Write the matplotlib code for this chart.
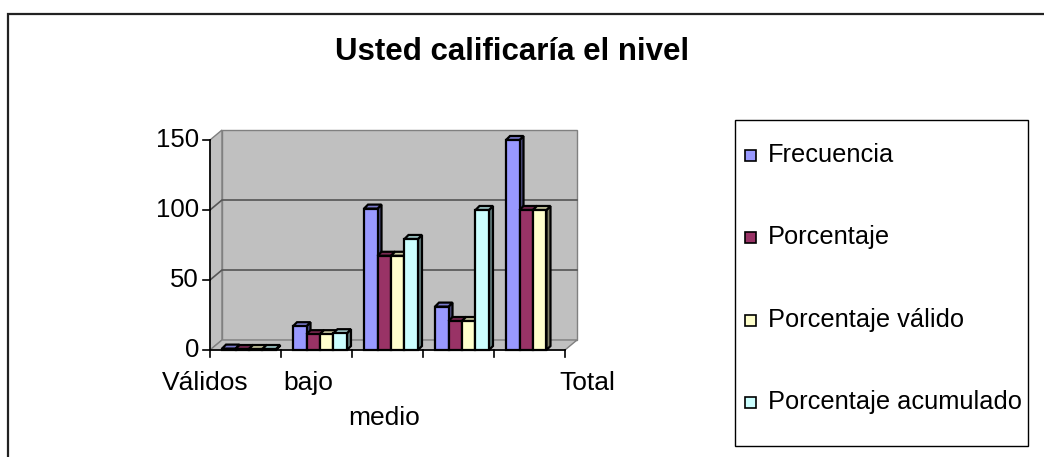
import matplotlib
matplotlib.use("Agg")
import matplotlib.pyplot as plt
from matplotlib.patches import Polygon, Rectangle
import numpy as np

plt.rcParams["font.family"] = ["Liberation Sans", "DejaVu Sans"]

title = "Usted calificaría el nivel"
categories = ["Válidos", "bajo", "medio", "", "Total"]
series_names = ["Frecuencia", "Porcentaje", "Porcentaje válido", "Porcentaje acumulado"]
frecuencia = [1, 17, 101, 31, 150]
porcentaje = [0.7, 11.3, 67.3, 20.7, 100]
porcentaje_valido = [0.7, 11.3, 67.3, 20.7, 100]
porcentaje_acumulado = [0.7, 12.0, 79.3, 100, np.nan]
y_ticks = [0, 50, 100, 150]

series = [frecuencia, porcentaje, porcentaje_valido, porcentaje_acumulado]
# front, top, side shades (Excel 2003 palette)
front_cols = ["#9999FF", "#993366", "#FFFFCC", "#CCFFFF"]
top_cols = ["#7A7ACC", "#7A2952", "#CCCCA3", "#A3CCCC"]
side_cols = ["#4D4D80", "#4D1A33", "#808066", "#668080"]

W, H = 1044, 457
fig = plt.figure(figsize=(W / 100, H / 100), dpi=100)

# front plane of the 3-D plot, in pixels: x 210..565, y 140..350
ax = fig.add_axes([210 / W, 1 - 350 / H, 355 / W, 210 / H])
ax.set_xlim(-0.5, len(categories) - 0.5)
ax.set_ylim(0, 150)
ax.axis("off")

ux = len(categories) / 355.0   # data units per pixel
uy = 150 / 210.0
dxw, dyw = 12 * ux, 10 * uy    # wall depth
dxb, dyb = 4 * ux, 4 * uy      # bar depth
x0, x1 = -0.5, len(categories) - 0.5

wall = "#C0C0C0"
wall_edge = "#808080"
ax.add_patch(Polygon([(x0, 0), (x0, 150), (x0 + dxw, 150 + dyw), (x0 + dxw, dyw)],
                     fc=wall, ec=wall_edge, lw=1, clip_on=False, zorder=1))
ax.add_patch(Rectangle((x0 + dxw, dyw), x1 - x0, 150, fc=wall, ec=wall_edge,
                       lw=1, clip_on=False, zorder=1))
ax.add_patch(Polygon([(x0, 0), (x1, 0), (x1 + dxw, dyw), (x0 + dxw, dyw)],
                     fc=wall, ec=wall_edge, lw=1, clip_on=False, zorder=1))
for v in y_ticks[1:-1]:
    ax.plot([x0, x0 + dxw, x1 + dxw], [v, v + dyw, v + dyw], color="#555555",
            lw=1.2, clip_on=False, zorder=2)

# front axes
ax.plot([x0, x0], [0, 150], color="black", lw=1.2, clip_on=False, zorder=3)
ax.plot([x0, x1], [0, 0], color="black", lw=1.2, clip_on=False, zorder=3)
for v in y_ticks:
    ax.plot([x0 - 7 * ux, x0], [v, v], color="black", lw=1.2, clip_on=False, zorder=3)
    ax.text(x0 - 11 * ux, v, str(v), ha="right", va="center", fontsize=18.5)
for b in np.arange(x0, x1 + 0.01, 1.0):
    ax.plot([b, b], [0, -7 * uy], color="black", lw=1.2, clip_on=False, zorder=3)

# bars
bw = 0.19
shift = 3.5 * ux
z = 4
for i in range(len(categories)):
    for j, vals in enumerate(series):
        v = vals[i]
        if np.isnan(v):
            continue
        left = i - 2 * bw + j * bw + shift
        ax.add_patch(Polygon([(left + bw, 0), (left + bw + dxb, dyb),
                              (left + bw + dxb, v + dyb), (left + bw, v)],
                             fc=side_cols[j], ec="black", lw=1.6, clip_on=False, zorder=z))
        ax.add_patch(Polygon([(left, v), (left + dxb, v + dyb),
                              (left + bw + dxb, v + dyb), (left + bw, v)],
                             fc=top_cols[j], ec="black", lw=1.6, clip_on=False, zorder=z + 1))
        ax.add_patch(Rectangle((left, 0), bw, v, fc=front_cols[j], ec="black",
                               lw=1.6, clip_on=False, zorder=z + 2))
        z += 3

# category labels (Excel staggers them)
label_dx = [-0.57, -0.12, -0.05, 0.0, 0.82]
label_dy = [33, 33, 68, 33, 33]
for i, lab in enumerate(categories):
    ax.text(i + label_dx[i], -label_dy[i] * uy, lab, ha="center", va="center",
            fontsize=19)

fig.text(512 / W, 1 - 52 / H, title, ha="center", va="center", fontsize=22.5,
         fontweight="bold")

# legend box
fig.add_artist(Rectangle((735 / W, 1 - 446 / H), 293 / W, 326 / H,
                         transform=fig.transFigure, fill=False, ec="black", lw=1))
for k, name in enumerate(series_names):
    yc = [155, 237, 320, 402][k]
    fig.add_artist(Rectangle((745 / W, 1 - (yc + 5.5) / H), 11 / W, 11 / H,
                             transform=fig.transFigure, fc=front_cols[k],
                             ec="black", lw=1.2))
    fig.text(768 / W, 1 - yc / H, name, ha="left", va="center", fontsize=18.3)

# chart area border (right and bottom run off the image)
fig.add_artist(Rectangle((8 / W, -0.1), 1.2, 1 - 14 / H + 0.1,
                         transform=fig.transFigure, fill=False, ec="#222222", lw=1.6))

fig.savefig("out.png", dpi=100)
